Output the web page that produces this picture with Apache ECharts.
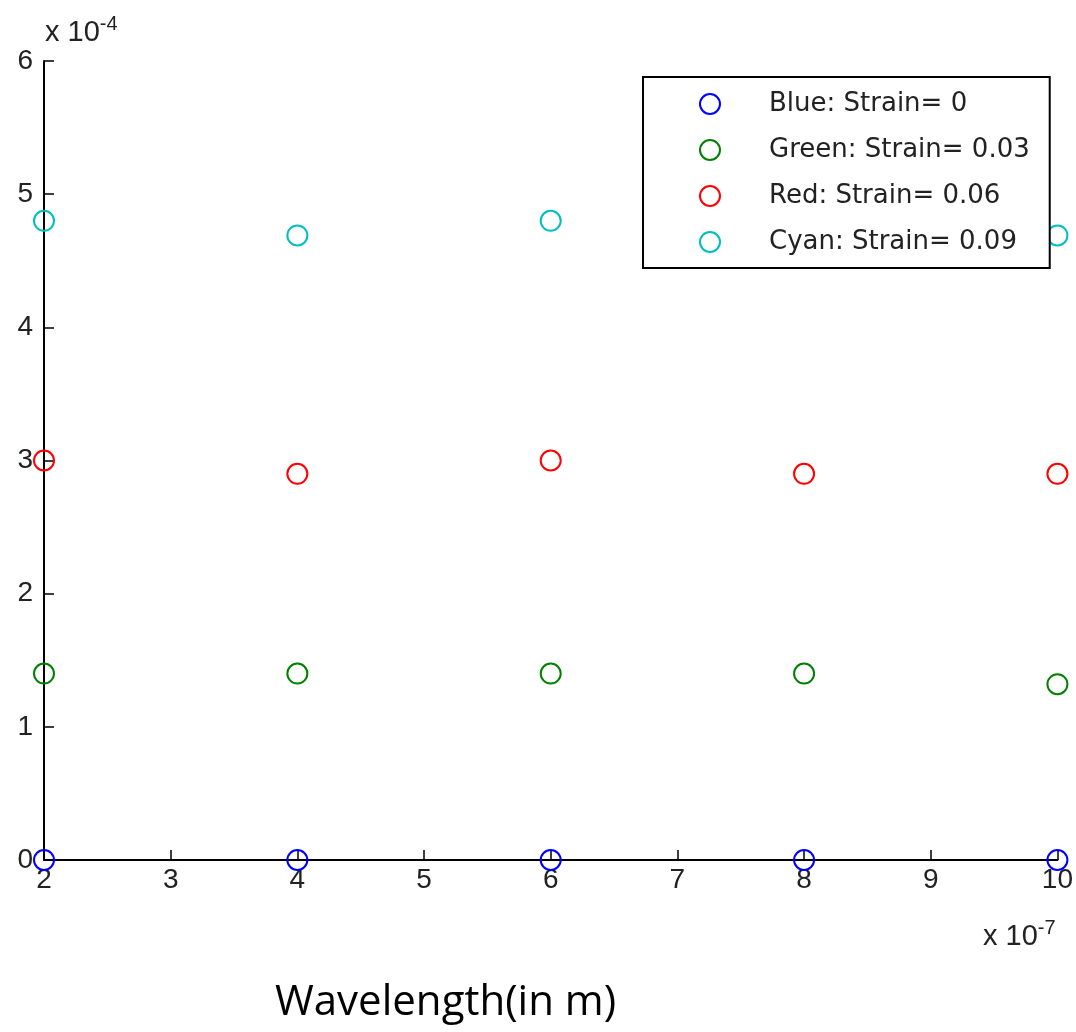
<!DOCTYPE html>
<html><head><meta charset="utf-8">
<script src="https://cdn.jsdelivr.net/npm/echarts@6/dist/echarts.min.js"></script>
<style>html,body{margin:0;padding:0;background:#fff}#c{width:1076px;height:1032px}</style>
</head><body><div id="c"></div>
<script>
const wavelengths = [2, 4, 6, 8, 10];
const blueVals  = [0, 0, 0, 0, 0];
const greenVals = [1.4, 1.4, 1.4, 1.4, 1.32];
const redVals   = [3.0, 2.9, 3.0, 2.9, 2.9];
const cyanVals  = [4.8, 4.69, 4.8, 4.7, 4.69];
const seriesNames = ['Blue: Strain= 0', 'Green: Strain= 0.03', 'Red: Strain= 0.06', 'Cyan: Strain= 0.09'];
const seriesColors = ['#0000ff', '#008000', '#ff0000', '#00bfbf'];
const allVals = [blueVals, greenVals, redVals, cyanVals];

const font = 'Liberation Sans';
const chart = echarts.init(document.getElementById('c'));
chart.setOption({
  animation: false,
  grid: {left: 44, right: 16, top: 61, bottom: 172},
  xAxis: {
    type: 'value', min: 2, max: 10, interval: 1,
    axisLine: {onZero: false, lineStyle: {color: '#000', width: 2}},
    axisTick: {inside: true, length: 10, lineStyle: {color: '#000', width: 1.5}},
    axisLabel: {color: '#222', fontSize: 28, fontFamily: font, margin: 6},
    splitLine: {show: false}
  },
  yAxis: {
    type: 'value', min: 0, max: 6, interval: 1,
    axisLine: {show: true, onZero: false, lineStyle: {color: '#000', width: 2}},
    axisTick: {show: true, inside: true, length: 10, lineStyle: {color: '#000', width: 1.5}},
    axisLabel: {color: '#222', fontSize: 28, fontFamily: font, margin: 11},
    splitLine: {show: false}
  },
  legend: {
    orient: 'vertical', left: 643, top: 77, right: 34,
    backgroundColor: '#fff', borderColor: '#000', borderWidth: 2,
    padding: [14, 20, 13, 56], itemGap: 20, itemWidth: 20, itemHeight: 20,
    z: 20, align: 'left',
    textStyle: {fontSize: 26, fontFamily: 'DejaVu Sans', color: '#222', padding: [0, 0, 0, 44]},
    data: seriesNames.map((n, i) => ({name: n, icon: 'circle',
      itemStyle: {color: '#fff', borderColor: seriesColors[i], borderWidth: 2, opacity: 1}}))
  },
  graphic: [
    {type: 'text', left: 45, top: 14, z: 30, style: {
      text: '{a|x 10}{b|-4}', rich: {a: {fontSize: 29, fontFamily: font, fill: '#222'}, b: {fontSize: 20, fontFamily: font, fill: '#222', padding: [0,0,18,0]}}}},
    {type: 'text', left: 983, top: 918, z: 30, style: {
      text: '{a|x 10}{b|-7}', rich: {a: {fontSize: 29, fontFamily: font, fill: '#222'}, b: {fontSize: 20, fontFamily: font, fill: '#222', padding: [0,0,18,0]}}}},
    {type: 'text', left: 275, top: 982, z: 30, style: {
      text: 'Wavelength(in m)', fontSize: 42, fontFamily: 'Open Sans', fill: '#000'}}
  ],
  series: seriesNames.map((n, i) => ({
    name: n, type: 'scatter', symbol: 'circle', symbolSize: 20, z: 3,
    itemStyle: {color: 'rgba(0,0,0,0)', borderColor: seriesColors[i], borderWidth: 2, opacity: 1},
    data: wavelengths.map((x, j) => [x, allVals[i][j]])
  }))
});
</script></body></html>
